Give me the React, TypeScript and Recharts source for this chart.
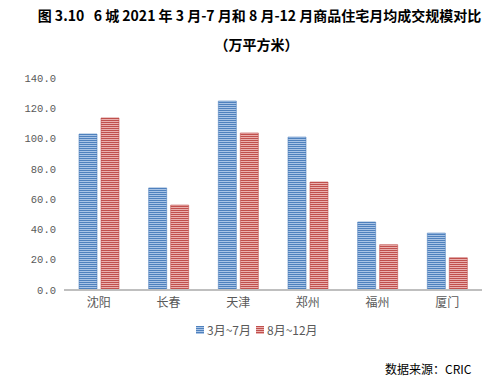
import { BarChart, Bar, XAxis, YAxis } from "recharts";

const cities = ["沈阳", "长春", "天津", "郑州", "福州", "厦门"];
const marToJul = [103.0, 67.4, 124.8, 101.0, 44.9, 37.6];
const augToDec = [113.6, 56.1, 103.7, 71.3, 29.9, 21.3];
const yTicks = [0, 20, 40, 60, 80, 100, 120, 140];
const seriesNames = ["3月~7月", "8月~12月"];

const BLUE = "#4f81bd";
const BLUE_LIGHT = "#a9c4e6";
const RED = "#c0504d";
const RED_LIGHT = "#eab0ae";
const AXIS_TEXT = "#595959";
const CJK = "'Noto Sans CJK SC', 'Noto Sans', sans-serif";

const data = cities.map((city, i) => ({
  city,
  a: marToJul[i],
  b: augToDec[i],
}));

function Stripes({ id, dark, light }: { id: string; dark: string; light: string }) {
  return (
    <pattern id={id} width="4" height="2" patternUnits="userSpaceOnUse">
      <rect x="0" y="0" width="4" height="2" fill={light} />
      <rect x="0" y="0" width="4" height="1" fill={dark} />
    </pattern>
  );
}

function LegendItem({ id, label }: { id: string; label: string }) {
  return (
    <div style={{ display: "flex", alignItems: "center", marginRight: 5 }}>
      <svg width="8" height="8" style={{ marginRight: 3 }}>
        <rect x="0" y="0" width="8" height="8" fill={`url(#${id})`} />
      </svg>
      <span>{label}</span>
    </div>
  );
}

export default function App() {
  return (
    <div
      style={{
        position: "absolute",
        left: 0,
        top: 0,
        width: 495,
        height: 382,
        background: "#fff",
        fontFamily: CJK,
      }}
    >
      <div
        style={{
          position: "absolute",
          top: 5,
          left: 0,
          width: 495,
          paddingLeft: 24,
          boxSizing: "border-box",
          textAlign: "center",
          fontSize: 14,
          fontWeight: 700,
          lineHeight: "20px",
          color: "#000",
          whiteSpace: "pre",
        }}
      >
        {"图 3.10   6 城 2021 年 3 月-7 月和 8 月-12 月商品住宅月均成交规模对比"}
      </div>
      <div
        style={{
          position: "absolute",
          top: 34,
          left: 0,
          width: 495,
          paddingLeft: 18,
          boxSizing: "border-box",
          textAlign: "center",
          fontSize: 14,
          fontWeight: 700,
          lineHeight: "20px",
          color: "#000",
        }}
      >
        （万平方米）
      </div>

      <div style={{ position: "absolute", left: 0, top: 0 }}>
        <BarChart
          width={495}
          height={382}
          data={data}
          margin={{ top: 78, right: 13, bottom: 62, left: 0 }}
          barSize={18}
          barGap={4}
        >
          <defs>
            <Stripes id="stripeBlue" dark={BLUE} light={BLUE_LIGHT} />
            <Stripes id="stripeRed" dark={RED} light={RED_LIGHT} />
          </defs>
          <XAxis
            dataKey="city"
            height={30}
            tickLine={false}
            axisLine={{ stroke: "#bfbfbf", strokeWidth: 2 }}
            tick={{ fontSize: 12, fill: AXIS_TEXT, fontFamily: CJK }}
          />
          <YAxis
            width={64}
            domain={[0, 140]}
            ticks={yTicks}
            axisLine={false}
            tickLine={false}
            tickFormatter={(v) => Number(v).toFixed(1)}
            tick={{ fontSize: 10.5, fill: AXIS_TEXT, fontFamily: "'Liberation Mono', monospace" }}
          />
          <Bar
            dataKey="a"
            name={seriesNames[0]}
            fill="url(#stripeBlue)"
            stroke={BLUE}
            strokeWidth={0.6}
            isAnimationActive={false}
          />
          <Bar
            dataKey="b"
            name={seriesNames[1]}
            fill="url(#stripeRed)"
            stroke={RED}
            strokeWidth={0.6}
            isAnimationActive={false}
          />
        </BarChart>
      </div>

      <div
        style={{
          position: "absolute",
          top: 322,
          left: 196,
          display: "flex",
          fontSize: 12,
          lineHeight: "16px",
          color: AXIS_TEXT,
        }}
      >
        <LegendItem id="stripeBlue" label={seriesNames[0]} />
        <LegendItem id="stripeRed" label={seriesNames[1]} />
      </div>

      <div
        style={{
          position: "absolute",
          top: 360,
          left: 385,
          fontSize: 12,
          lineHeight: "18px",
          color: "#000",
          whiteSpace: "nowrap",
        }}
      >
        数据来源：CRIC
      </div>
    </div>
  );
}
